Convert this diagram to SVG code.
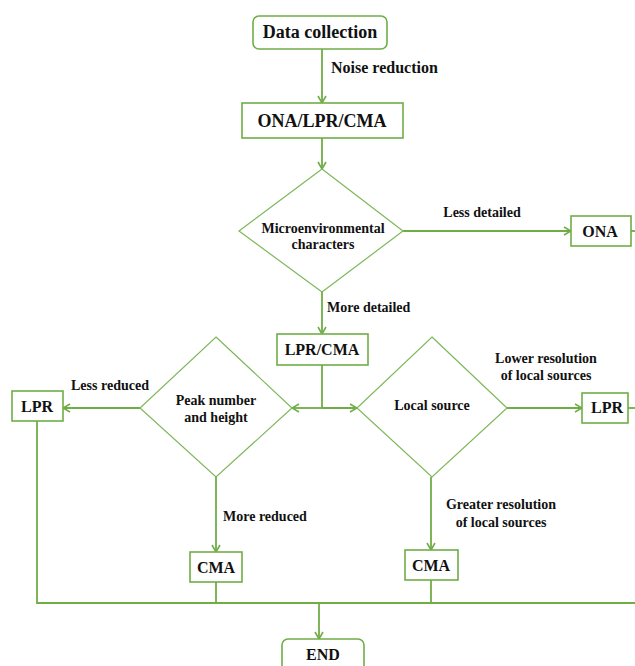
<svg xmlns="http://www.w3.org/2000/svg" width="635" height="666" viewBox="0 0 635 666">
<defs>
<style>
.box{fill:#fff;stroke:#70AD47;stroke-width:1.6}
.dia{fill:#fff;stroke:#7DB85A;stroke-width:1.2}
.ln{fill:none;stroke:#70AD47;stroke-width:1.8}
text{font-weight:bold;fill:#111;text-anchor:middle}
.big{font-size:18px}
.md{font-size:16px}
.sm{font-size:14px}
.st{text-anchor:start}
</style>
<marker id="ah" viewBox="0 0 10 10" refX="9" refY="5" markerWidth="10" markerHeight="10" markerUnits="userSpaceOnUse" orient="auto">
<polyline points="2,1 9,5 2,9" fill="none" stroke="#70AD47" stroke-width="1.6"/>
</marker>
</defs>
<rect width="635" height="666" fill="#fff"/>
<g id="connectors" font-family="'Liberation Serif', 'DejaVu Serif', serif">
<line class="ln" x1="322" y1="49" x2="322" y2="103" marker-end="url(#ah)"/>
<line class="ln" x1="322" y1="138" x2="322" y2="169" marker-end="url(#ah)"/>
<line class="ln" x1="403" y1="231" x2="571" y2="231" marker-end="url(#ah)"/>
<line class="ln" x1="631" y1="231" x2="635" y2="231"/>
<line class="ln" x1="322" y1="292" x2="322" y2="334" marker-end="url(#ah)"/>
<line class="ln" x1="322" y1="365" x2="322" y2="408"/>
<line class="ln" x1="322" y1="408" x2="292" y2="408" marker-end="url(#ah)"/>
<line class="ln" x1="322" y1="408" x2="357" y2="408" marker-end="url(#ah)"/>
<line class="ln" x1="140" y1="408" x2="63" y2="408" marker-end="url(#ah)"/>
<polyline class="ln" points="37,421 37,603 635,603"/>
<line class="ln" x1="216" y1="477" x2="216" y2="552" marker-end="url(#ah)"/>
<line class="ln" x1="216" y1="582" x2="216" y2="603"/>
<line class="ln" x1="431" y1="477" x2="431" y2="550" marker-end="url(#ah)"/>
<line class="ln" x1="431" y1="580" x2="431" y2="603"/>
<line class="ln" x1="507" y1="408" x2="582" y2="408" marker-end="url(#ah)"/>
<line class="ln" x1="628" y1="408" x2="635" y2="408"/>
<line class="ln" x1="319" y1="603" x2="319" y2="639" marker-end="url(#ah)"/>
<text class="md st" x="331" y="73">Noise reduction</text>
<text class="sm" x="482" y="217">Less detailed</text>
<text class="sm st" x="327" y="312">More detailed</text>
<text class="sm" x="110" y="390">Less reduced</text>
<text class="sm" x="546" y="363">Lower resolution</text>
<text class="sm" x="546" y="380">of local sources</text>
<text class="sm st" x="223" y="521">More reduced</text>
<text class="sm" x="501" y="509">Greater resolution</text>
<text class="sm" x="501" y="527">of local sources</text>
</g>
<g font-family="'Liberation Serif', 'DejaVu Serif', serif">
<g id="data-collection">
<rect class="box" x="253" y="16" width="134" height="33" rx="6"/>
<text class="big" x="320" y="38">Data collection</text>
</g>
<g id="ona-lpr-cma">
<rect class="box" x="242" y="103" width="161" height="35"/>
<text class="big" x="322" y="127">ONA/LPR/CMA</text>
</g>
<g id="micro">
<polygon class="dia" points="322,169 403,231 322,292 239,231"/>
<text class="sm" x="323" y="233">Microenvironmental</text>
<text class="sm" x="323" y="249">characters</text>
</g>
<g id="ona">
<rect class="box" x="571" y="216" width="60" height="30"/>
<text class="md" x="600" y="237">ONA</text>
</g>
<g id="lpr-cma">
<rect class="box" x="277" y="334" width="91" height="31"/>
<text class="md" x="322" y="355">LPR/CMA</text>
</g>
<g id="peak">
<polygon class="dia" points="216,337 292,408 216,477 140,408"/>
<text class="sm" x="216" y="405">Peak number</text>
<text class="sm" x="216" y="422">and height</text>
</g>
<g id="local">
<polygon class="dia" points="432,337 507,408 432,477 357,408"/>
<text class="sm" x="432" y="410">Local source</text>
</g>
<g id="lpr-left">
<rect class="box" x="12" y="391" width="51" height="30"/>
<text class="md" x="37" y="412">LPR</text>
</g>
<g id="lpr-right">
<rect class="box" x="582" y="393" width="46" height="30"/>
<text class="md" x="607" y="413">LPR</text>
</g>
<g id="cma-left">
<rect class="box" x="190" y="552" width="52" height="30"/>
<text class="md" x="216" y="573">CMA</text>
</g>
<g id="cma-right">
<rect class="box" x="405" y="550" width="53" height="30"/>
<text class="md" x="431" y="571">CMA</text>
</g>
<g id="end">
<rect class="box" x="282" y="639" width="82" height="40" rx="6"/>
<text class="md" x="323" y="660">END</text>
</g>
</g>
</svg>
